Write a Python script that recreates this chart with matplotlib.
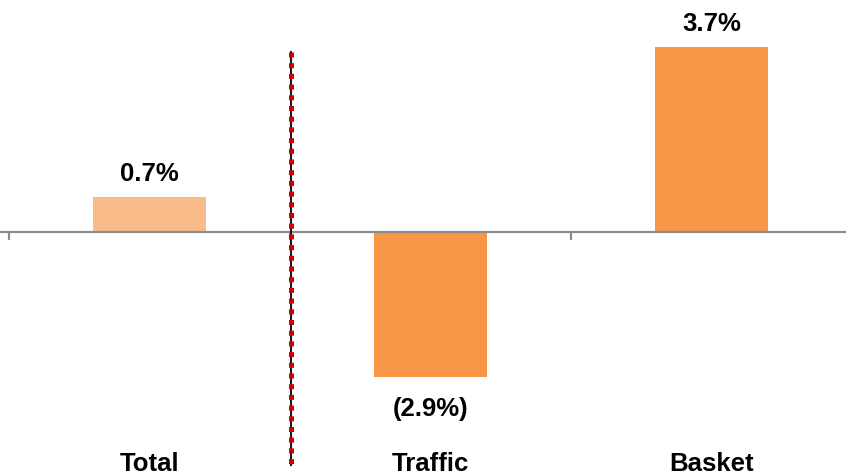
import matplotlib
matplotlib.use("Agg")
import matplotlib.pyplot as plt

plt.rcParams['font.family'] = ['Liberation Sans', 'DejaVu Sans']

categories = ["Total", "Traffic", "Basket"]
values = [0.7, -2.9, 3.7]
value_labels = ["0.7%", "(2.9%)", "3.7%"]
bar_colors = ["#F9BC88", "#F79646", "#F79646"]

fig = plt.figure(figsize=(8.46, 4.75), dpi=100)
ax = fig.add_axes([0, 0, 1, 1])
ax.set_xlim(-0.532, 2.479)
ax.set_ylim(-4.86, 4.64)
ax.axis("off")

x = list(range(len(categories)))
ax.bar(x, values, width=0.402, color=bar_colors, zorder=2)

# zero axis with tick marks between categories
ax.axhline(0, color="#8C8C8C", lw=1.6, zorder=3)
for t in [-0.5, 0.5, 1.5, 2.5]:
    ax.plot([t, t], [0, -0.16], color="#8C8C8C", lw=1.6, solid_capstyle="butt", zorder=3)

# value labels
for xi, v, lab in zip(x, values, value_labels):
    if v >= 0:
        y = v + 0.32
    else:
        y = v - 0.78
    ax.text(xi, y, lab, ha="center", va="baseline", fontsize=18.5,
            fontweight="bold", color="black", zorder=4)

# category labels
for xi, c in zip(x, categories):
    ax.text(xi, -4.78, c, ha="center", va="baseline", fontsize=18.5,
            fontweight="bold", color="black", zorder=4)

# separator between total and components
sep_x = 0.504
ax.plot([sep_x, sep_x], [3.6, -4.66], color="#1A1A1A", lw=1.5, zorder=5)
sep, = ax.plot([sep_x, sep_x], [3.6, -4.66], color="#D00000", lw=3.6,
               dash_capstyle="butt", zorder=6)
sep.set_linestyle((0.0, (1.0, 1.14)))

fig.savefig("out.png", dpi=100)
